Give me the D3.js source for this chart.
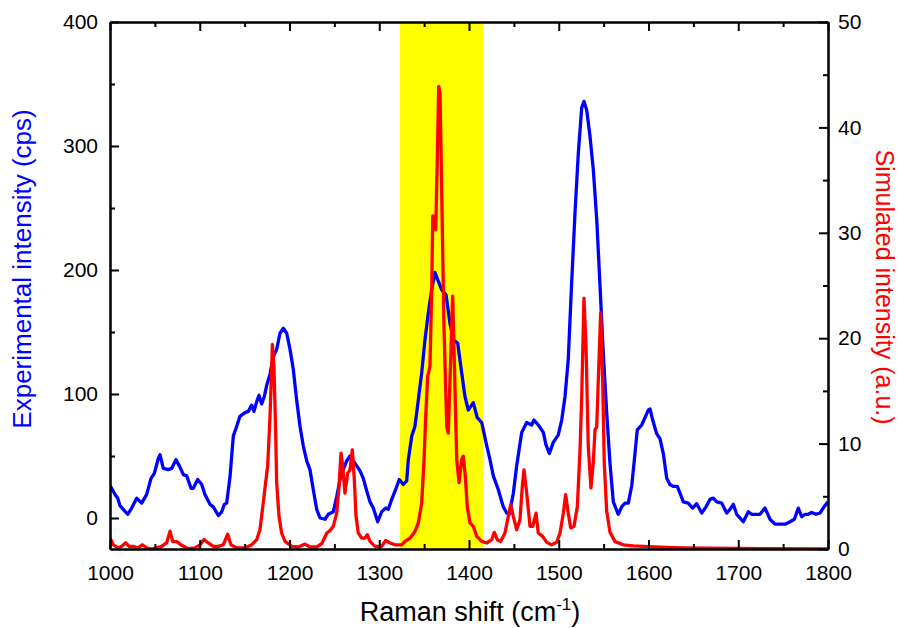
<!DOCTYPE html>
<html>
<head>
<meta charset="utf-8">
<script src="https://cdn.jsdelivr.net/npm/d3@7"></script>
<style>
  html, body { margin: 0; padding: 0; background: #fff; }
  svg { display: block; font-family: "Liberation Sans", Arial, sans-serif; }
</style>
</head>
<body>
<svg id="chart" width="900" height="628"></svg>
<script>
// ---- Data ----
const expShift = [1000,1001,1005.6,1008.6,1011.1,1014.8,1019.7,1024.2,1029.7,1035.3,1040.9,1045.7,1049.4,1053.8,1055.7,1059.4,1065,1068.7,1073.5,1078,1081.7,1085.5,1090.3,1092.8,1097.7,1102.2,1105.8,1111.4,1115.1,1120.7,1124.5,1127.4,1130,1133.7,1137.4,1141.2,1144.8,1150.4,1154.1,1157.9,1160.4,1163.5,1166,1169,1171.9,1174.6,1178.3,1181.9,1185.7,1189.4,1193.1,1196.9,1200.6,1204.2,1208,1211.7,1215.4,1219.2,1222.8,1226.5,1230.3,1234,1239.6,1243.2,1248.8,1252.6,1256.3,1259.9,1263.7,1267.4,1271.1,1274.9,1278.6,1282.2,1286,1289.7,1293.4,1298.3,1302.7,1307.2,1310.1,1313.9,1318.3,1322.3,1326.8,1330.6,1332.4,1336.2,1339.8,1343.5,1347.3,1351,1354.6,1358.4,1362.1,1365.8,1369.6,1374.4,1378.8,1382.5,1387.4,1391.9,1395.5,1399.2,1404.8,1409.2,1414.2,1418.9,1423.4,1427.1,1432.6,1438.2,1442,1444.9,1449.4,1453.1,1458.7,1464.3,1469.9,1472.4,1477.2,1482.8,1485.8,1489.5,1493.9,1499.5,1503.3,1507,1510.6,1514.4,1518.1,1521.8,1525.6,1528.1,1531.1,1534.8,1538.5,1542.3,1546,1549.6,1553.4,1557.1,1560.8,1566.3,1570.1,1573.8,1577.5,1581.3,1584,1587.5,1592.4,1596.1,1599.8,1601.7,1604.7,1609.1,1612.8,1616.5,1620.3,1623.9,1627.6,1632.1,1635.1,1638.8,1644.3,1649.2,1653.7,1659.3,1664.1,1668.5,1672.2,1676,1681.6,1687.1,1690.8,1694.5,1698.3,1702,1705.6,1711.2,1715,1720.6,1724.2,1729.8,1735.4,1740.9,1746.5,1752.1,1757.7,1762.5,1766.9,1770.7,1774.4,1778.1,1781.8,1786.6,1791.1,1795.5,1800];
const expIntensity = [26,25,19,16,10,7,3,8,16,12,19,32,36,48,51,40,39,40,47,41,35,34,24,24,31,27,19,11,9,2,5,11,12,33,66,74,82,85,86,91,86,94,99,92,98,107,116,130,136,149,153,149,136,120,95,74,58,46,39,23,7,0,-1,3,5,17,31,39,46,50,46,42,38,32,22,13,8,-3,5,8,7,15,23,31,27,30,47,66,74,95,117,144,165,184,198,191,184,180,157,144,141,117,98,87,93,81,77,61,47,34,23,9,4,3,20,42,69,77,75,79,75,69,59,52,61,67,79,98,128,190,246,294,331,336,329,308,281,241,187,133,85,44,13,3,9,12,12,26,45,71,75,81,87,88,79,68,64,52,32,27,25.5,25.5,20,13,12,8,11.5,4,9,15,16,13,12,4,7,11,3,0,-3,5,3,3,3,8,-1,-5,-5,-5,-3,-1,8,1,3,3,4.5,3,4,9,13];

const simShift = [1000,1003.7,1009.2,1013,1017.5,1021.2,1026,1030.9,1036,1040.9,1046.5,1052,1057.6,1063.2,1066.9,1069.9,1074.3,1079.9,1087.2,1094.7,1100.3,1104.7,1109.5,1115.1,1120.7,1126.2,1131.1,1134.8,1141.2,1150.4,1157.9,1163.5,1167.1,1170.8,1173,1175.7,1178.3,1180.2,1180.9,1182.7,1184.6,1185.7,1188.3,1191.3,1195,1202.5,1209.8,1217.3,1222.8,1230.3,1235.9,1241.4,1245.1,1248.8,1252.6,1255.2,1257.4,1259.3,1261.8,1264.8,1267.4,1270,1272.2,1274.1,1276.7,1280.4,1284.1,1286.7,1289.7,1295.3,1302.7,1307.2,1312,1317.5,1325,1328.7,1334.3,1339.8,1343.5,1347.3,1349.9,1352.1,1354,1356.5,1358.4,1359.6,1361,1362.9,1364.7,1366.2,1367.7,1369.6,1372.1,1375.2,1376.9,1379.6,1381.8,1383.6,1386.3,1388.9,1391.9,1393.6,1395.9,1398.1,1401.1,1404.8,1408.6,1414.2,1419.7,1425.3,1428.2,1431.5,1435.3,1440.1,1443.8,1446.5,1449.4,1453.1,1456.8,1459.4,1461.3,1464.3,1468,1471,1474.7,1477.2,1482.1,1486.6,1492.1,1497.7,1501.4,1505.1,1507.7,1510.6,1513.3,1517,1520.7,1523.7,1525.6,1528.1,1530.4,1532.9,1535.9,1538.5,1540.4,1542.3,1544.1,1546.7,1548.9,1550.7,1553.4,1557.1,1562.7,1571.9,1583.1,1594.2,1620,1638.8,1700,1724,1800];
const simIntensity = [1.05,0.4,0.1,0.25,0.6,0.25,0.25,0.1,0.4,0.1,0,0.1,0.25,0.6,1.7,0.7,0.7,0.35,0.03,0.1,0.4,0.9,0.57,0.25,0.25,0.4,1.4,0.4,0.1,0.1,0.4,0.9,1.83,4.4,6,7.9,12.6,17.3,19.4,17.3,11,6.3,3.1,1.5,0.72,0.25,0.19,0.47,0.19,0.19,0.5,1.5,1.74,2.15,3.4,5.95,9.1,7.85,5.3,7.2,7.5,9.4,6.6,3.1,1.5,1.04,1.04,1.36,0.72,0.25,0.25,0.82,0.57,0.4,0.4,0.72,1.04,1.67,2.47,4.37,8.5,13.2,16.4,17.3,24.3,31.6,30.6,30.3,37,43.9,43.3,33.8,21.1,11.6,11,18,24,18,8.5,6.3,8.5,8.8,6.9,4,2.47,2.15,1.2,0.72,0.57,0.88,1.58,0.88,0.72,1.52,3.1,4.2,3.1,1.83,2.78,5.95,7.5,5.3,2.15,2.15,3.4,1.52,1.2,0.63,0.4,0.63,1.52,3.4,5.15,3.4,2.0,2.15,4,9.4,14.5,23.8,19.2,9.7,5.8,8.2,11.3,11.6,16.1,22.4,16.1,8.2,3.6,1.6,0.7,0.4,0.3,0.25,0.15,0.1,0.05,0.03,0];

const highlightRange = [1323, 1416];
const xTicks = [1000,1100,1200,1300,1400,1500,1600,1700,1800];
const xMinorTicks = [1050,1150,1250,1350,1450,1550,1650,1750];
const leftTicks = [0,100,200,300,400];
const leftMinorTicks = [50,150,250,350];
const rightTicks = [0,10,20,30,40,50];
const rightMinorTicks = [5,15,25,35,45];

// ---- Layout ----
const L = 110, R = 828, T = 22, B = 549;
const svg = d3.select("#chart");

const x = d3.scaleLinear().domain([1000, 1800]).range([L, R]);
const yL = d3.scaleLinear().domain([-25, 400]).range([B, T]);
const yR = d3.scaleLinear().domain([0, 50]).range([B, T]);

svg.append("defs").append("clipPath").attr("id", "plotclip")
  .append("rect").attr("x", L).attr("y", T).attr("width", R - L).attr("height", B - T);

// highlight band
svg.append("rect")
  .attr("x", x(highlightRange[0])).attr("y", T)
  .attr("width", x(highlightRange[1]) - x(highlightRange[0]))
  .attr("height", B - T)
  .attr("fill", "#ffff00");

const g = svg.append("g").attr("clip-path", "url(#plotclip)");

const expData = expShift.map((s, i) => [s, expIntensity[i]]);
const simData = simShift.map((s, i) => [s, simIntensity[i]]);

g.append("path").datum(expData)
  .attr("fill", "none").attr("stroke", "#0000ff").attr("stroke-width", 3.3)
  .attr("stroke-linejoin", "round")
  .attr("d", d3.line().x(d => x(d[0])).y(d => yL(d[1])));

g.append("path").datum(simData)
  .attr("fill", "none").attr("stroke", "#ff0000").attr("stroke-width", 3.3)
  .attr("stroke-linejoin", "round")
  .attr("d", d3.line().x(d => x(d[0])).y(d => yR(d[1])));

// ---- Axes ----
function style(sel) {
  sel.select(".domain").attr("stroke", "#000").attr("stroke-width", 2);
  sel.selectAll(".tick line").attr("stroke", "#000").attr("stroke-width", 2);
  sel.selectAll(".tick text").attr("fill", "#000").attr("font-size", 21)
     .attr("font-family", '"Liberation Sans", Arial, sans-serif');
}

// bottom
svg.append("g").attr("transform", `translate(0,${B})`)
  .call(d3.axisBottom(x).tickValues(xTicks).tickSize(-9).tickSizeOuter(0).tickPadding(16).tickFormat(d3.format("d")))
  .call(style);
svg.append("g").attr("transform", `translate(0,${B})`)
  .call(d3.axisBottom(x).tickValues(xMinorTicks).tickSize(-5).tickSizeOuter(0).tickFormat(""))
  .call(style);
// top
svg.append("g").attr("transform", `translate(0,${T})`)
  .call(d3.axisTop(x).tickValues(xTicks).tickSize(-9).tickSizeOuter(0).tickFormat(""))
  .call(style);
svg.append("g").attr("transform", `translate(0,${T})`)
  .call(d3.axisTop(x).tickValues(xMinorTicks).tickSize(-5).tickSizeOuter(0).tickFormat(""))
  .call(style);
// left
svg.append("g").attr("transform", `translate(${L},0)`)
  .call(d3.axisLeft(yL).tickValues(leftTicks).tickSize(-9).tickSizeOuter(0).tickPadding(12).tickFormat(d3.format("d")))
  .call(style);
svg.append("g").attr("transform", `translate(${L},0)`)
  .call(d3.axisLeft(yL).tickValues(leftMinorTicks).tickSize(-5).tickSizeOuter(0).tickFormat(""))
  .call(style);
// right
svg.append("g").attr("transform", `translate(${R},0)`)
  .call(d3.axisRight(yR).tickValues(rightTicks).tickSize(-9).tickSizeOuter(0).tickPadding(10).tickFormat(d3.format("d")))
  .call(style);
svg.append("g").attr("transform", `translate(${R},0)`)
  .call(d3.axisRight(yR).tickValues(rightMinorTicks).tickSize(-5).tickSizeOuter(0).tickFormat(""))
  .call(style);

// ---- Titles ----
const xt = svg.append("text")
  .attr("x", 470).attr("y", 621)
  .attr("text-anchor", "middle").attr("font-size", 27).attr("fill", "#000");
xt.append("tspan").text("Raman shift (cm");
xt.append("tspan").attr("dy", -11).attr("font-size", 17).text("-1");
xt.append("tspan").attr("dy", 11).text(")");

svg.append("text")
  .attr("transform", "translate(31,269) rotate(-90)")
  .attr("text-anchor", "middle").attr("font-size", 26).attr("fill", "#0000ff")
  .text("Experimental intensity (cps)");

svg.append("text")
  .attr("transform", "translate(876,287) rotate(90)")
  .attr("text-anchor", "middle").attr("font-size", 25).attr("fill", "#ff0000")
  .text("Simulated intensity (a.u.)");
</script>
</body>
</html>
